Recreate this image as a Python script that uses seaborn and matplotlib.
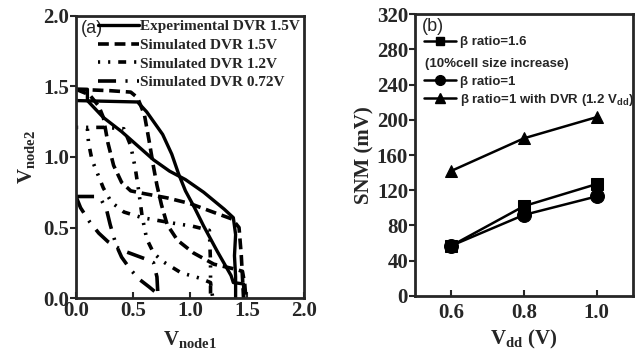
import numpy as np
import pandas as pd
import matplotlib
matplotlib.use("Agg")
import matplotlib.pyplot as plt
import seaborn as sns
from matplotlib.lines import Line2D

# --- (a) butterfly curves: V_node2 vs V_node1 ---
exp15_ax = [0.0, 0.54, 0.62, 0.76, 0.84, 0.90, 0.96, 1.04, 1.12, 1.24, 1.36, 1.38, 1.47, 1.47]
exp15_ay = [1.40, 1.39, 1.32, 1.16, 1.02, 0.88, 0.76, 0.64, 0.51, 0.33, 0.16, 0.11, 0.10, 0.0]
exp15_bx = [0.0, 0.10, 0.10, 0.24, 0.40, 0.54, 0.68, 0.82, 0.96, 1.12, 1.30, 1.38, 1.40, 1.39, 1.40, 1.40]
exp15_by = [1.48, 1.48, 1.40, 1.28, 1.18, 1.08, 0.98, 0.90, 0.84, 0.75, 0.63, 0.57, 0.45, 0.30, 0.15, 0.0]

sim15_ax = [0.0, 0.30, 0.48, 0.54, 0.60, 0.64, 0.68, 0.71, 0.75, 0.80, 0.89, 1.03, 1.21, 1.37, 1.46, 1.48, 1.49]
sim15_ay = [1.48, 1.47, 1.46, 1.42, 1.30, 1.12, 0.93, 0.80, 0.66, 0.52, 0.41, 0.32, 0.24, 0.21, 0.19, 0.10, 0.0]
sim15_bx = [0.0, 0.12, 0.20, 0.24, 0.28, 0.33, 0.40, 0.48, 0.60, 0.80, 1.00, 1.20, 1.37, 1.43, 1.45, 1.46, 1.47]
sim15_by = [1.48, 1.44, 1.36, 1.28, 1.10, 0.94, 0.82, 0.76, 0.74, 0.71, 0.67, 0.61, 0.56, 0.50, 0.30, 0.15, 0.0]

sim12_ax = [0.0, 0.25, 0.42, 0.48, 0.52, 0.55, 0.58, 0.62, 0.68, 0.76, 0.92, 1.09, 1.18, 1.19, 1.20]
sim12_ay = [1.21, 1.21, 1.20, 1.08, 0.92, 0.76, 0.58, 0.42, 0.32, 0.26, 0.18, 0.14, 0.11, 0.05, 0.0]
sim12_bx = [0.10, 0.11, 0.14, 0.19, 0.24, 0.31, 0.42, 0.58, 0.86, 1.02, 1.17, 1.18, 1.18]
sim12_by = [1.20, 1.10, 0.98, 0.88, 0.78, 0.68, 0.61, 0.57, 0.53, 0.51, 0.48, 0.25, 0.0]

sim072_ax = [0.0, 0.16, 0.22, 0.27, 0.30, 0.35, 0.40, 0.48, 0.56, 0.64, 0.70, 0.72]
sim072_ay = [0.72, 0.72, 0.70, 0.62, 0.52, 0.38, 0.29, 0.20, 0.13, 0.08, 0.04, 0.0]
sim072_bx = [0.0, 0.04, 0.12, 0.20, 0.28, 0.40, 0.50, 0.60, 0.68, 0.71, 0.72]
sim072_by = [0.72, 0.64, 0.54, 0.46, 0.40, 0.34, 0.31, 0.28, 0.25, 0.15, 0.0]

labels_a = ["Experimental DVR 1.5V", "Simulated DVR 1.5V",
            "Simulated DVR 1.2V", "Simulated DVR 0.72V"]

# --- (b) SNM vs Vdd ---
vdd = [0.6, 0.8, 1.0]
snm_beta16 = [57, 102, 127]
snm_beta1 = [57, 92, 113]
snm_dvr = [142, 179, 203]

sns.set_style("ticks")
plt.rcParams['font.family'] = ['Liberation Serif', 'DejaVu Serif']
plt.rcParams['axes.linewidth'] = 2.0
plt.rcParams['mathtext.fontset'] = 'custom'
plt.rcParams['mathtext.rm'] = 'Liberation Serif:bold'
plt.rcParams['mathtext.bf'] = 'Liberation Serif:bold'
plt.rcParams['mathtext.sf'] = 'Liberation Sans:bold'

fig = plt.figure(figsize=(6.36, 3.54), dpi=100)
ax1 = fig.add_axes([0.1195, 0.158, 0.3585, 0.797])
ax2 = fig.add_axes([0.6525, 0.164, 0.3425, 0.796])

styles = [
    ("-", 2.4),
    ((0, (3.0, 1.6)), 2.6),
    ((0, (0.6, 2.2, 0.6, 2.2, 2.2, 2.2)), 2.6),
    ((0, (5.0, 2.6, 0.6, 2.6)), 2.6),
]
pairs = [
    (exp15_ax, exp15_ay, exp15_bx, exp15_by),
    (sim15_ax, sim15_ay, sim15_bx, sim15_by),
    (sim12_ax, sim12_ay, sim12_bx, sim12_by),
    (sim072_ax, sim072_ay, sim072_bx, sim072_by),
]
handles = []
for (xa, ya, xb, yb), (ls, lw), lab in zip(pairs, styles, labels_a):
    for xs, ys in [(xa, ya), (xb, yb)]:
        d = pd.DataFrame({"x": xs, "y": ys})
        sns.lineplot(data=d, x="x", y="y", sort=False, estimator=None,
                     color="black", linestyle=ls, linewidth=lw, ax=ax1)
    handles.append(Line2D([], [], color="black", linestyle=ls, linewidth=lw, label=lab))

fmt = matplotlib.ticker.FormatStrFormatter("%.1f")
ax1.set_xlim(0, 2.0)
ax1.set_ylim(0, 2.0)
ax1.set_xticks([0, 0.5, 1.0, 1.5, 2.0])
ax1.set_yticks([0, 0.5, 1.0, 1.5, 2.0])
ax1.xaxis.set_major_formatter(fmt)
ax1.yaxis.set_major_formatter(fmt)
ax1.tick_params(axis="x", direction="in", length=4, width=1.5, labelsize=15, pad=2,
                labelfontfamily="Liberation Serif")
ax1.tick_params(axis="y", direction="out", length=4, width=1.5, labelsize=15, pad=1,
                labelfontfamily="Liberation Serif")
for t in ax1.get_xticklabels() + ax1.get_yticklabels():
    t.set_fontweight("bold")
ax1.set_xlabel(r"V$_{\mathbf{node1}}$", fontsize=15, fontweight="bold", labelpad=6)
ax1.set_ylabel(r"V$_{\mathbf{node2}}$", fontsize=15, fontweight="bold", labelpad=4)
ax1.legend(handles=handles, loc="upper right", frameon=False,
           prop={"family": "Liberation Serif", "weight": "bold", "size": 11},
           handlelength=2.7, handletextpad=0.1, labelspacing=0.32,
           borderaxespad=0.05, borderpad=0.2)
ax1.text(0.02, 0.985, "(a)", transform=ax1.transAxes, ha="left", va="top",
         fontsize=13, family="Liberation Sans")

# right panel
df_b = pd.DataFrame({
    "vdd": vdd * 3,
    "snm": snm_beta16 + snm_beta1 + snm_dvr,
    "series": ["b16"] * 3 + ["b1"] * 3 + ["dvr"] * 3,
})
mk = {"b16": "s", "b1": "o", "dvr": "^"}
ms = {"b16": 8, "b1": 10, "dvr": 9}
for key in ["b16", "b1", "dvr"]:
    sub = df_b[df_b["series"] == key]
    sns.lineplot(data=sub, x="vdd", y="snm", color="black", linewidth=1.8,
                 marker=mk[key], markersize=ms[key], markeredgecolor="black",
                 estimator=None, ax=ax2)

ax2.set_xlim(0.5, 1.1)
ax2.set_ylim(0, 320)
ax2.set_xticks([0.6, 0.8, 1.0])
ax2.set_yticks(range(0, 321, 40))
ax2.xaxis.set_major_formatter(fmt)
ax2.tick_params(axis="x", direction="in", length=4, width=1.5, labelsize=15, pad=5,
                labelfontfamily="Liberation Serif")
ax2.tick_params(axis="y", direction="out", length=4, width=1.5, labelsize=15, pad=1,
                labelfontfamily="Liberation Serif")
for t in ax2.get_xticklabels() + ax2.get_yticklabels():
    t.set_fontweight("bold")
ax2.set_xlabel(r"V$_{\mathbf{dd}}$ (V)", fontsize=15, fontweight="bold", labelpad=4)
ax2.set_ylabel("SNM (mV)", fontsize=15, fontweight="bold", labelpad=2)

leg_prop = {"family": "Liberation Sans", "weight": "bold", "size": 9.5}
h1 = [Line2D([], [], color="black", lw=1.8, marker="s", markersize=6)]
leg_top = ax2.legend(handles=h1, labels=["β ratio=1.6"], loc="upper left",
                     frameon=False, prop=leg_prop, handlelength=2.4,
                     handletextpad=0.3, bbox_to_anchor=(0.0, 0.955),
                     borderaxespad=0.4, borderpad=0.3)
ax2.add_artist(leg_top)
h2 = [Line2D([], [], color="black", lw=1.8, marker="o", markersize=7),
      Line2D([], [], color="black", lw=1.8, marker="^", markersize=7)]
ax2.legend(handles=h2,
           labels=["β ratio=1", r"β ratio=1 with DVR (1.2 V$_{\mathsf{dd}}$)"],
           loc="upper left", frameon=False, prop=leg_prop, handlelength=2.4,
           handletextpad=0.3, labelspacing=0.3, bbox_to_anchor=(0.0, 0.815),
           borderaxespad=0.4, borderpad=0.3)
ax2.text(0.045, 0.823, "(10%cell size increase)", transform=ax2.transAxes,
         ha="left", va="center", fontsize=9.5, fontweight="bold", family="Liberation Sans")
ax2.text(0.03, 0.985, "(b)", transform=ax2.transAxes, ha="left", va="top",
         fontsize=13, family="Liberation Sans")

fig.savefig("out.png", dpi=100)
